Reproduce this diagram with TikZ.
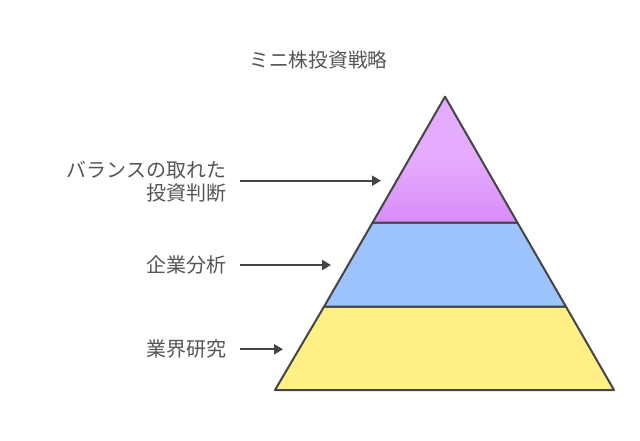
\documentclass[tikz,border=0pt]{standalone}
\usepackage{fontspec}
\newfontfamily\cjk{Noto Sans CJK JP}
\usetikzlibrary{arrows.meta}
\definecolor{txt}{HTML}{555555}
\definecolor{edge}{HTML}{454545}
\definecolor{ptop}{HTML}{E5ABFD}
\definecolor{pbot}{HTML}{D88BF8}
\definecolor{blu}{HTML}{9DC3FC}
\definecolor{yel}{HTML}{FFF086}
\tikzset{
  lbl/.style={font=\cjk\fontsize{20pt}{23.5pt}\selectfont, text=txt, inner sep=0pt, anchor=east, align=right},
  ttl/.style={font=\cjk\fontsize{19.7pt}{22pt}\selectfont, text=txt, inner sep=0pt},
  arr/.style={draw=edge, line width=2pt, -{Triangle[length=9pt,width=10pt]}},
  layer/.style={draw=edge, line width=2pt, line join=round}
}
\begin{document}
\begin{tikzpicture}[x=1pt,y=-1pt]
\useasboundingbox (0,0) rectangle (640,440);
\fill[white] (0,0) rectangle (640,440);
% pyramid coordinates
\coordinate (apex) at (445,96.7);
\coordinate (l1) at (372.5,222.7);
\coordinate (r1) at (517.5,222.7);
\coordinate (l2) at (324,306.7);
\coordinate (r2) at (566,306.7);
\coordinate (bl) at (275,390);
\coordinate (br) at (614,390);
% layers
\path[layer, fill=yel] (l2) -- (r2) -- (br) -- (bl) -- cycle;
\path[layer, fill=blu] (l1) -- (r1) -- (r2) -- (l2) -- cycle;
\shade[top color=ptop, bottom color=pbot, middle color=ptop, shading angle=0] (apex) -- (r1) -- (l1) -- cycle;
\path[layer] (apex) -- (r1) -- (l1) -- cycle;
% title
\node[ttl] (title) at (318.5,60) {ミニ株投資戦略};
% labels
\node[lbl] (lab1) at (226.5,181.5) {バランスの取れた\\投資判断};
\node[lbl] (lab2) at (226.5,265) {企業分析};
\node[lbl] (lab3) at (226.5,349) {業界研究};
% arrows
\coordinate (s1) at (240,180.7);
\coordinate (t1) at (381,180.7);
\coordinate (s2) at (240,265);
\coordinate (t2) at (331,265);
\coordinate (s3) at (240,349.3);
\coordinate (t3) at (283,349.3);
\draw[arr] (s1) -- (t1);
\draw[arr] (s2) -- (t2);
\draw[arr] (s3) -- (t3);
\end{tikzpicture}
\end{document}
